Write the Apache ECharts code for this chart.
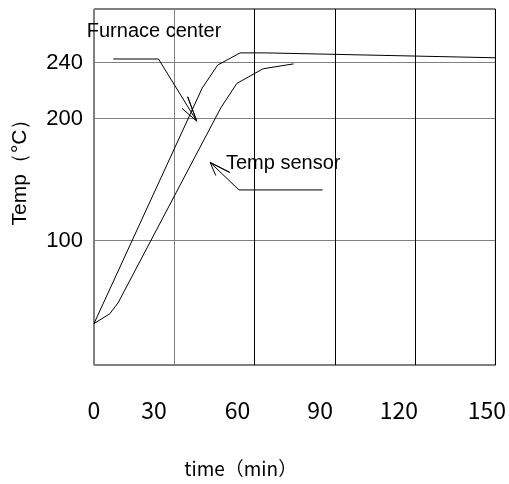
<!DOCTYPE html>
<html>
<head>
<meta charset="utf-8">
<script src="https://cdn.jsdelivr.net/npm/echarts@6/dist/echarts.min.js"></script>
<style>html,body{margin:0;padding:0;background:#fff;}#c{width:509px;height:484px;}</style>
</head>
<body>
<div id="c"></div>
<script>
// ---- data ----
const furnaceTime = [0, 40.4, 46.2, 54.6, 64.1, 150];
const furnaceTemp = [32, 225, 244, 254, 254, 250];
const sensorTime = [0, 5.9, 9.0, 47.4, 53.4, 63.2, 74.6];
const sensorTemp = [32, 40, 49, 209, 229, 241, 245];
const xTickLabels = ['0', '30', '60', '90', '120', '150'];
const yGridValues = [100, 200, 246];
const yTickLabels = ['100', '200', '240'];
const seriesNames = ['Furnace center', 'Temp sensor'];
// annotation leader lines (data units)
const furnaceLeaderT = [7.2, 24.1, 38.4, 35.0, 38.4, 32.9];
const furnaceLeaderV = [249, 249, 198, 218, 198, 208.4];
const sensorLeaderT = [85.4, 54.2, 43.4, 50.7, 43.4, 45.5];
const sensorLeaderV = [141.6, 141.6, 164.1, 156, 164.1, 153.4];
const labelAnchorT = [-2.7, 49.3];
const labelAnchorV = [271.7, 162.9];

// ---- layout ----
const xLabelAt = [0, 22.4, 53.6, 84.5, 113.9, 146.8];
const zip = (a, b) => a.map((v, i) => [v, b[i]]);
const lineStyle = { color: '#000', width: 1 };

const chart = echarts.init(document.getElementById('c'), null, { renderer: 'canvas' });
chart.setOption({
  animation: false,
  backgroundColor: '#fff',
  grid: { left: 94, top: 9, width: 404, height: 358, show: true, borderColor: '#000', borderWidth: 1 },
  xAxis: {
    type: 'value', min: 0, max: 150, interval: 30,
    axisLine: { show: true, onZero: false, lineStyle: { color: '#808080', width: 1 } },
    axisTick: { show: false },
    splitLine: { show: true, lineStyle: { color: ['#808080', '#808080', '#000', '#000', '#000', '#000'], width: 1 } },
    axisLabel: {
      customValues: xLabelAt,
      formatter: v => xTickLabels[xLabelAt.indexOf(v)],
      fontFamily: 'Noto Sans CJK SC', fontSize: 23, lineHeight: 24, color: '#000', margin: 33
    },
    name: 'time（min）', nameLocation: 'middle', nameGap: 94,
    nameTextStyle: { fontFamily: 'Noto Sans CJK SC', fontSize: 19, lineHeight: 20, color: '#000', padding: [0, 108, 0, 0] }
  },
  yAxis: {
    type: 'value', min: -2, max: 290,
    axisLine: { show: true, onZero: false, lineStyle: { color: '#808080', width: 1 } },
    axisTick: { show: false, customValues: yGridValues },
    splitLine: { show: true, lineStyle: { color: '#808080', width: 1 } },
    axisLabel: {
      customValues: yGridValues,
      formatter: v => yTickLabels[yGridValues.indexOf(v)],
      fontFamily: 'Liberation Sans', fontSize: 22, color: '#000', margin: 11
    },
    name: 'Temp（°C）', nameLocation: 'middle', nameGap: 63, nameRotate: 90,
    nameTextStyle: { fontFamily: 'Liberation Sans', fontSize: 21, color: '#000', padding: [0, 0, 0, 40] }
  },
  series: [
    { name: seriesNames[0], type: 'line', data: zip(furnaceTime, furnaceTemp), symbol: 'none', lineStyle, z: 5 },
    { name: seriesNames[1], type: 'line', data: zip(sensorTime, sensorTemp), symbol: 'none', lineStyle, z: 5 },
    { type: 'line', data: zip(furnaceLeaderT, furnaceLeaderV), symbol: 'none', lineStyle, z: 5, silent: true },
    { type: 'line', data: zip(sensorLeaderT, sensorLeaderV), symbol: 'none', lineStyle, z: 5, silent: true },
    {
      type: 'scatter', clip: false, symbolSize: 0, silent: true, z: 6,
      itemStyle: { opacity: 1 },
      data: zip(labelAnchorT, labelAnchorV).map((p, i) => ({ value: p, name: seriesNames[i] })),
      label: {
        show: true, position: 'right', distance: 0, formatter: p => p.name,
        fontFamily: 'Liberation Sans', fontSize: 20, color: '#000', opacity: 1
      }
    }
  ]
});
</script>
</body>
</html>
